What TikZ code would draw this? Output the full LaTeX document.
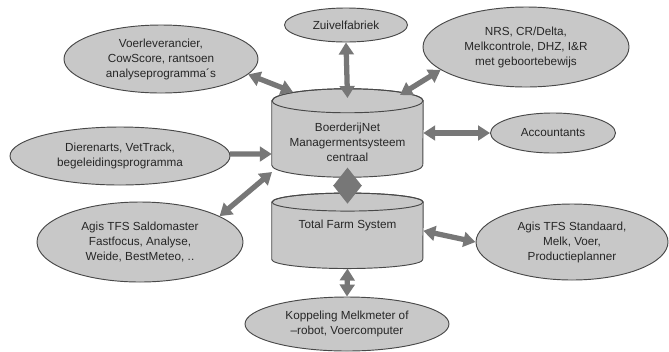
\documentclass[tikz,border=0pt]{standalone}
\usepackage{fontspec}
\setmainfont{Liberation Sans}
\usetikzlibrary{arrows.meta,shapes.geometric}
\definecolor{ovalgray}{HTML}{C8C8C8}
\definecolor{edgegray}{HTML}{484848}
\definecolor{linkgray}{HTML}{777777}
\definecolor{textgray}{HTML}{262626}

\begin{document}
\begin{tikzpicture}[
    x=0.03cm, y=-0.03cm,
    oval/.style={ellipse, draw=edgegray, fill=ovalgray, line width=0.8pt,
                 inner sep=0pt, align=center, text=textgray,
                 font=\fontsize{10}{12.8}\selectfont},
    dbbox/.style={rectangle, minimum width=4.53cm, inner sep=0pt},
    dbtext/.style={align=center, text=textgray, inner sep=0pt,
                   font=\fontsize{10}{12.8}\selectfont},
    dbskin/.style={draw=edgegray, fill=ovalgray, line width=0.8pt},
    link/.style={linkgray, line width=4.5pt,
                 {Triangle[width=0.44cm,length=0.36cm]}-{Triangle[width=0.44cm,length=0.36cm]}},
    onelink/.style={linkgray, line width=4.5pt,
                    -{Triangle[width=0.44cm,length=0.36cm]}}
  ]

  % ---- Canvas ----
  \useasboundingbox (0,0) rectangle (669,351);

  % ============ CENTRE: databases ============

  % BoerderijNet cylinder
  \node[dbbox, minimum height=2.64cm] (boer) at (347.5,133) {};
  \filldraw[dbskin]
    ([yshift=-0.36cm]boer.north west) -- ([yshift=0.36cm]boer.south west)
    arc[start angle=180, end angle=360, x radius=2.265cm, y radius=0.36cm]
    -- ([yshift=-0.36cm]boer.north east)
    arc[start angle=0, end angle=180, x radius=2.265cm, y radius=0.36cm] -- cycle;
  \draw[edgegray, line width=0.8pt]
    ([yshift=-0.36cm]boer.north) ellipse[x radius=2.265cm, y radius=0.36cm];
  \node[dbtext] (boertext) at ([yshift=-0.27cm]boer.center)
    {BoerderijNet\\Managermentsysteem\\centraal};

  % Total Farm System cylinder
  \node[dbbox, minimum height=2.25cm] (tfs) at (347.5,230.8) {};
  \filldraw[dbskin]
    ([yshift=-0.27cm]tfs.north west) -- ([yshift=0.27cm]tfs.south west)
    arc[start angle=180, end angle=360, x radius=2.265cm, y radius=0.27cm]
    -- ([yshift=-0.27cm]tfs.north east)
    arc[start angle=0, end angle=180, x radius=2.265cm, y radius=0.27cm] -- cycle;
  \draw[edgegray, line width=0.8pt]
    ([yshift=-0.27cm]tfs.north) ellipse[x radius=2.265cm, y radius=0.27cm];
  \node[dbtext] (tfstext) at ([yshift=0.17cm]tfs.center) {Total Farm System};

  % ============ AROUND: partners ============

  \node[oval, minimum width=3.69cm, minimum height=1.02cm]
    (zuivel) at (346,25) {Zuivelfabriek};

  \node[oval, minimum width=5.82cm, minimum height=2.04cm]
    (voer) at (161,59)
    {Voerleverancier,\\CowScore, rantsoen\\analyseprogramma´s};

  \node[oval, minimum width=6.18cm, minimum height=2.4cm]
    (nrs) at (526,47)
    {NRS, CR/Delta,\\Melkcontrole, DHZ, I\&R\\met geboortebewijs};

  \node[oval, minimum width=6.6cm, minimum height=1.74cm]
    (dier) at (120,156)
    {Dierenarts, VetTrack,\\begeleidingsprogramma};

  \node[oval, minimum width=3.75cm, minimum height=1.2cm]
    (acc) at (553,133) {Accountants};

  \node[oval, minimum width=6.18cm, minimum height=2.4cm]
    (saldo) at (140,242)
    {Agis TFS Saldomaster\\Fastfocus, Analyse,\\Weide, BestMeteo, ..};

  \node[oval, minimum width=5.76cm, minimum height=2.28cm]
    (stand) at (572,242)
    {Agis TFS Standaard,\\Melk, Voer,\\Productieplanner};

  \node[oval, minimum width=6.12cm, minimum height=1.62cm]
    (kop) at (347,324)
    {Koppeling Melkmeter of\\–robot, Voercomputer};

  % ============ Connectors ============

  \draw[link] (voer.-10) -- ([shift={(-54.5,-41)}]boer.center);
  \draw[link] (zuivel.south) -- ([shift={(0,-35)}]boer.center);
  \draw[link] (nrs.-165.5) -- ([shift={(52.5,-38)}]boer.center);
  \draw[onelink] (dier.1) -- ([shift={(0,21)}]boer.west);
  \draw[link] (boer.east) -- (acc.west);
  \draw[link] (saldo.18) -- ([shift={(-75.5,39)}]boer.center);
  \draw[link] (tfs.east) -- (stand.west);
  \draw[link] (tfs.south) -- (kop.north);

  % diamond between the two databases
  \draw[linkgray, line width=3pt,
        {Triangle[width=0.84cm,length=0.55cm]}-{Triangle[width=0.84cm,length=0.55cm]}]
    ([yshift=0.29cm]boer.south) -- ([yshift=-0.32cm]tfs.north);

\end{tikzpicture}
\end{document}
